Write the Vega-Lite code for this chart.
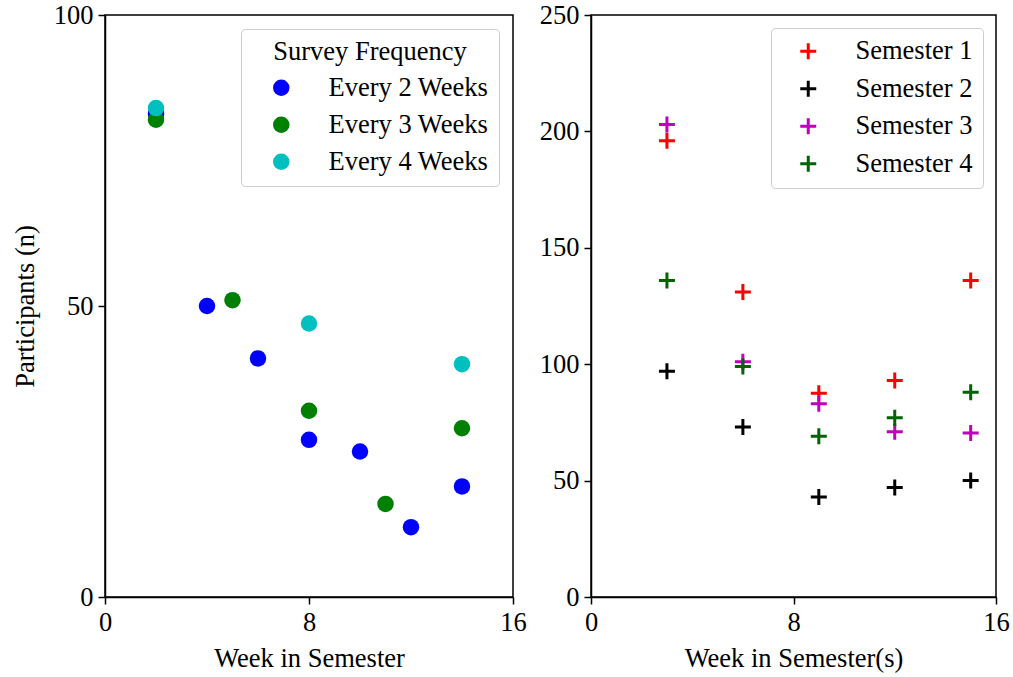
{
  "$schema": "https://vega.github.io/schema/vega-lite/v6.json",
  "background": "white",
  "padding": {"left": 11, "top": 1, "right": 0, "bottom": 3},
  "config": {
    "font": "Liberation Serif",
    "view": {"stroke": "black", "strokeWidth": 1.5},
    "axis": {
      "domainColor": "black", "domainWidth": 1.5,
      "tickColor": "black", "tickWidth": 1.5, "tickSize": 7,
      "labelFont": "Liberation Serif", "labelFontSize": 26.5, "labelColor": "black", "labelPadding": 5,
      "labelFlush": false,
      "titleFont": "Liberation Serif", "titleFontSize": 26.5, "titleFontWeight": "normal", "titleColor": "black",
      "grid": false
    },
    "concat": {"spacing": 11}
  },
  "datasets": {
    "survey": [
      {"week": 2, "n": 83, "freq": "Every 2 Weeks"},
      {"week": 4, "n": 50, "freq": "Every 2 Weeks"},
      {"week": 6, "n": 41, "freq": "Every 2 Weeks"},
      {"week": 8, "n": 27, "freq": "Every 2 Weeks"},
      {"week": 10, "n": 25, "freq": "Every 2 Weeks"},
      {"week": 12, "n": 12, "freq": "Every 2 Weeks"},
      {"week": 14, "n": 19, "freq": "Every 2 Weeks"},
      {"week": 2, "n": 82, "freq": "Every 3 Weeks"},
      {"week": 5, "n": 51, "freq": "Every 3 Weeks"},
      {"week": 8, "n": 32, "freq": "Every 3 Weeks"},
      {"week": 11, "n": 16, "freq": "Every 3 Weeks"},
      {"week": 14, "n": 29, "freq": "Every 3 Weeks"},
      {"week": 2, "n": 84, "freq": "Every 4 Weeks"},
      {"week": 8, "n": 47, "freq": "Every 4 Weeks"},
      {"week": 14, "n": 40, "freq": "Every 4 Weeks"}
    ],
    "semesters": [
      {"week": 3, "n": 196, "sem": "Semester 1"},
      {"week": 6, "n": 131, "sem": "Semester 1"},
      {"week": 9, "n": 87.5, "sem": "Semester 1"},
      {"week": 12, "n": 93, "sem": "Semester 1"},
      {"week": 15, "n": 136, "sem": "Semester 1"},
      {"week": 3, "n": 97, "sem": "Semester 2"},
      {"week": 6, "n": 73, "sem": "Semester 2"},
      {"week": 9, "n": 43, "sem": "Semester 2"},
      {"week": 12, "n": 47, "sem": "Semester 2"},
      {"week": 15, "n": 50, "sem": "Semester 2"},
      {"week": 3, "n": 203, "sem": "Semester 3"},
      {"week": 6, "n": 101, "sem": "Semester 3"},
      {"week": 9, "n": 83, "sem": "Semester 3"},
      {"week": 12, "n": 71, "sem": "Semester 3"},
      {"week": 15, "n": 70.5, "sem": "Semester 3"},
      {"week": 3, "n": 136, "sem": "Semester 4"},
      {"week": 6, "n": 99, "sem": "Semester 4"},
      {"week": 9, "n": 69, "sem": "Semester 4"},
      {"week": 12, "n": 77, "sem": "Semester 4"},
      {"week": 15, "n": 88, "sem": "Semester 4"}
    ]
  },
  "hconcat": [
    {
      "width": 408,
      "height": 582,
      "data": {"name": "survey"},
      "mark": {"type": "point", "filled": true, "shape": "circle", "size": 272, "opacity": 1},
      "encoding": {
        "x": {"field": "week", "type": "quantitative", "scale": {"domain": [0, 16], "nice": false},
              "axis": {"values": [0, 8, 16], "title": "Week in Semester", "titlePadding": 10}},
        "y": {"field": "n", "type": "quantitative", "scale": {"domain": [0, 100], "nice": false},
              "axis": {"values": [0, 50, 100], "title": "Participants (n)", "titlePadding": 14}},
        "color": {"field": "freq", "type": "nominal",
          "scale": {"domain": ["Every 2 Weeks", "Every 3 Weeks", "Every 4 Weeks"], "range": ["#0000ff", "#008000", "#00bfbf"]},
          "legend": {
            "orient": "top-right", "offset": 14,
            "title": "Survey Frequency", "titleAnchor": "middle",
            "titleFont": "Liberation Serif", "titleFontSize": 26.5, "titleFontWeight": "normal", "titleColor": "black", "titleLimit": 400,
            "titlePadding": 9,
            "labelFont": "Liberation Serif", "labelFontSize": 26.5, "labelColor": "black", "labelLimit": 400,
            "labelOffset": 34, "symbolOffset": 17,
            "padding": 10, "rowPadding": 10,
            "strokeColor": "#cccccc", "fillColor": "white", "cornerRadius": 4,
            "symbolType": "circle", "symbolSize": 272, "symbolStrokeWidth": 0
          }}
      }
    },
    {
      "width": 405,
      "height": 582,
      "data": {"name": "semesters"},
      "mark": {"type": "point", "filled": false, "shape": "M-1,0L1,0M0,-1L0,1", "size": 256, "strokeWidth": 3, "opacity": 1},
      "encoding": {
        "x": {"field": "week", "type": "quantitative", "scale": {"domain": [0, 16], "nice": false},
              "axis": {"values": [0, 8, 16], "title": "Week in Semester(s)", "titlePadding": 10}},
        "y": {"field": "n", "type": "quantitative", "scale": {"domain": [0, 250], "nice": false},
              "axis": {"values": [0, 50, 100, 150, 200, 250], "title": null}},
        "color": {"field": "sem", "type": "nominal",
          "scale": {"domain": ["Semester 1", "Semester 2", "Semester 3", "Semester 4"], "range": ["#ff0000", "#000000", "#bf00bf", "#006400"]},
          "legend": {
            "orient": "top-right", "offset": 13,
            "title": null,
            "labelFont": "Liberation Serif", "labelFontSize": 26.5, "labelColor": "black", "labelLimit": 400,
            "labelOffset": 34, "symbolOffset": 14,
            "padding": 10, "rowPadding": 8.5,
            "strokeColor": "#cccccc", "fillColor": "white", "cornerRadius": 4,
            "symbolType": "M-1,0L1,0M0,-1L0,1", "symbolSize": 256, "symbolStrokeWidth": 3
          }}
      }
    }
  ],
  "resolve": {"scale": {"color": "independent", "y": "independent"}, "legend": {"color": "independent"}}
}
